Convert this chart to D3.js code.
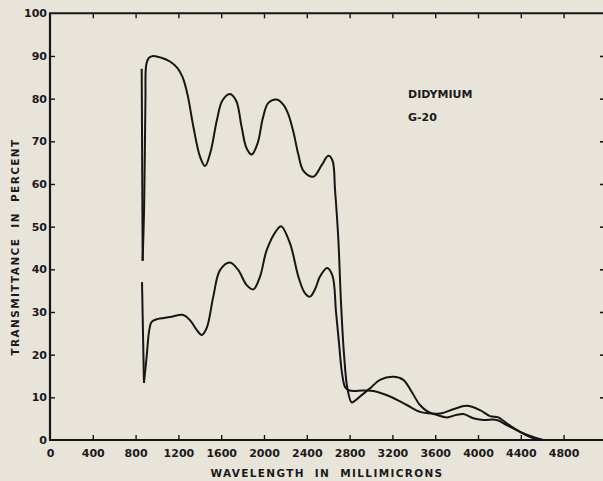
<!DOCTYPE html>
<html><head><meta charset="utf-8">
<script src="https://cdn.jsdelivr.net/npm/d3@7"></script>
<style>
html,body{margin:0;padding:0;background:#e9e4da;}
svg{display:block;}
text{font-family:"DejaVu Sans",sans-serif;font-weight:bold;fill:#1a1a1a;}
</style></head>
<body>
<script>
// Data (wavelength in millimicrons, transmittance in percent)
const upperSpike = [[857,87],[866,42]];
const upperCurve = [[866,42],[880,55],[892,80],[900,88],[925,89.6],[965,90],[1040,89.6],[1121,88.7],[1190,87.2],[1240,85],[1285,81],[1340,73.4],[1402,66.4],[1449,64.2],[1500,67.5],[1560,75],[1610,79.5],[1682,81.1],[1740,79.5],[1790,73.5],[1835,68.5],[1885,66.9],[1940,69.5],[1990,75.5],[2040,79],[2119,79.8],[2180,78.6],[2225,76.5],[2274,72.3],[2320,67],[2370,63],[2461,61.7],[2539,64.4],[2601,66.6],[2640,65.5],[2664,58.6],[2695,46.9],[2720,32],[2748,20],[2780,12],[2820,8.8],[2860,9.4],[2897,10.2],[2991,12.1],[3084,14.1],[3209,14.8],[3302,14.1],[3380,11.3],[3458,8.2],[3551,6.4],[3645,6.2],[3769,7.2],[3894,8.0],[4019,7.0],[4112,5.6],[4190,5.3],[4268,3.9],[4393,1.9],[4500,0.6],[4600,0]];
const lowerSpike = [[860,37],[878,13.4]];
const lowerCurve = [[878,13.4],[903,19.5],[928,25.8],[950,27.7],[997,28.3],[1121,28.8],[1246,29.3],[1308,28.1],[1371,25.8],[1418,24.6],[1464,26.2],[1526,33.6],[1589,39.8],[1682,41.6],[1760,39.8],[1838,36.3],[1900,35.3],[1963,38.3],[2025,44.5],[2119,49.2],[2160,50.1],[2243,46.1],[2321,38.3],[2380,34.5],[2430,33.6],[2480,35.5],[2523,38.3],[2590,40.3],[2640,38.5],[2673,30],[2700,23],[2730,15.5],[2760,12.3],[2800,11.6],[2928,11.6],[3022,11.5],[3178,10.2],[3334,8.2],[3458,6.6],[3583,6.1],[3707,5.3],[3801,5.9],[3863,6.1],[3956,5.1],[4050,4.7],[4175,4.7],[4268,3.5],[4393,1.9],[4549,0.4],[4610,0]];
const xTicks = [0,400,800,1200,1600,2000,2400,2800,3200,3600,4000,4400,4800];
const yTicks = [0,10,20,30,40,50,60,70,80,90,100];
const labels = ["DIDYMIUM","G-20"];

const W=603,H=481;
const svg=d3.select("body").append("svg").attr("width",W).attr("height",H);
const x=d3.scaleLinear().domain([0,4800]).range([50,563.6]);
const y=d3.scaleLinear().domain([0,100]).range([440,13.3]);
const ink="#161616";

// frame
svg.append("line").attr("x1",50).attr("x2",50).attr("y1",y(100)).attr("y2",y(0)).attr("stroke",ink).attr("stroke-width",2.2);
svg.append("line").attr("x1",49).attr("x2",W).attr("y1",y(0)).attr("y2",y(0)).attr("stroke",ink).attr("stroke-width",2);
svg.append("line").attr("x1",49).attr("x2",W).attr("y1",y(100)).attr("y2",y(100)).attr("stroke",ink).attr("stroke-width",2);

// bottom ticks (inward)
const bx=svg.append("g").attr("transform",`translate(0,${y(0)})`)
  .call(d3.axisBottom(x).tickValues(xTicks).tickSize(-5).tickPadding(11).tickFormat(d3.format("d")));
bx.select(".domain").remove();
bx.selectAll(".tick line").attr("stroke",ink).attr("stroke-width",1.4);
bx.selectAll(".tick text").style("font-size","11px").attr("fill",ink).attr("dy","0.5em");
bx.selectAll(".tick").filter(d=>d===0).select("line").remove();

// top ticks (inward)
const tx=svg.append("g").attr("transform",`translate(0,${y(100)})`)
  .call(d3.axisTop(x).tickValues(xTicks.filter(d=>d>0)).tickSize(-5).tickFormat(""));
tx.select(".domain").remove();
tx.selectAll(".tick line").attr("stroke",ink).attr("stroke-width",1.4);

// left ticks (inward)
const ly=svg.append("g").attr("transform","translate(50,0)")
  .call(d3.axisLeft(y).tickValues(yTicks).tickSize(-5).tickPadding(3));
ly.select(".domain").remove();
ly.selectAll(".tick line").attr("stroke",ink).attr("stroke-width",1.4);
ly.selectAll(".tick").filter(d=>d===0||d===100).select("line").remove();
ly.selectAll(".tick text").style("font-size","11px").attr("fill",ink);

// right ticks
const ry=svg.append("g").attr("transform",`translate(${W+1},0)`)
  .call(d3.axisRight(y).tickValues(yTicks.filter(d=>d>0&&d<100)).tickSize(-4).tickFormat(""));
ry.select(".domain").remove();
ry.selectAll(".tick line").attr("stroke",ink).attr("stroke-width",1.6);

// axis titles
svg.append("text").attr("x",327).attr("y",477).attr("text-anchor","middle")
  .style("font-size","10.5px").style("letter-spacing","1.35px").attr("xml:space","preserve")
  .text("WAVELENGTH  IN  MILLIMICRONS");
svg.append("text").attr("transform","translate(19,247) rotate(-90)").attr("text-anchor","middle")
  .style("font-size","10.5px").style("letter-spacing","1.4px").attr("xml:space","preserve")
  .text("TRANSMITTANCE  IN  PERCENT");

// annotation
svg.selectAll("text.ann").data(labels).enter().append("text").attr("class","ann")
  .attr("x",408).attr("y",(d,i)=>98+i*22.5).style("font-size","11px").text(d=>d);

// curves
const line=d3.line().x(d=>x(d[0])).y(d=>y(d[1])).curve(d3.curveCatmullRom.alpha(0.5));
const g=svg.append("g").attr("fill","none").attr("stroke",ink).attr("stroke-width",2).attr("stroke-linejoin","round");
[upperSpike,upperCurve,lowerSpike,lowerCurve].forEach(s=>g.append("path").attr("d",line(s)));
</script>
</body></html>
